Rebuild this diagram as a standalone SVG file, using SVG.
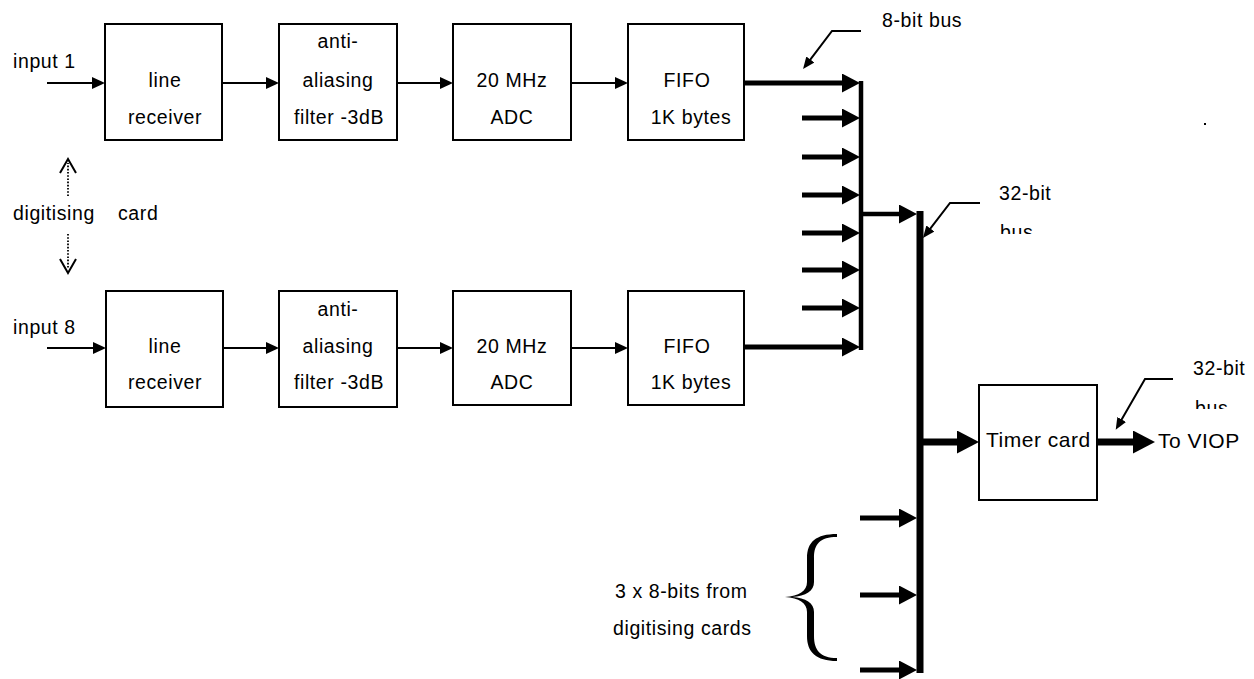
<svg xmlns="http://www.w3.org/2000/svg" width="1254" height="679" viewBox="0 0 1254 679">
<style>
  text { font-family: "Liberation Sans", Arial, sans-serif; font-size: 19.5px; letter-spacing: 0.6px; fill: #000; }
  .mid { text-anchor: middle; }
  .big { font-size: 21px; letter-spacing: 0.5px; }
  .box { fill: #fff; stroke: #000; stroke-width: 2; }
  .thin { fill: none; stroke: #000; stroke-width: 2; marker-end: url(#ahThin); }
  .thick { fill: none; stroke: #000; stroke-width: 5; marker-end: url(#ahThick); }
  .heavy { fill: none; stroke: #000; stroke-width: 7; marker-end: url(#ahBig); }
  .bus8 { fill: none; stroke: #000; stroke-width: 4.5; }
  .bus32 { fill: none; stroke: #000; stroke-width: 7; }
  .lead { fill: none; stroke: #000; stroke-width: 2; marker-end: url(#ahLead); }
  .dot { fill: none; stroke: #000; stroke-width: 1.8; stroke-dasharray: 1.6 1.6; }
  .chev { fill: none; stroke: #000; stroke-width: 2; }
</style>
<defs>
  <marker id="ahThin" markerUnits="userSpaceOnUse" markerWidth="13" markerHeight="12" viewBox="0 0 13 12" refX="1" refY="6" orient="auto">
    <path d="M0,0 L13,6 L0,12 Z" fill="#000"/>
  </marker>
  <marker id="ahThick" markerUnits="userSpaceOnUse" markerWidth="18" markerHeight="19" viewBox="0 0 18 19" refX="1" refY="9.5" orient="auto">
    <path d="M0,0 L18,9.5 L0,19 Z" fill="#000"/>
  </marker>
  <marker id="ahBig" markerUnits="userSpaceOnUse" markerWidth="22" markerHeight="23" viewBox="0 0 22 23" refX="1" refY="11.5" orient="auto">
    <path d="M0,0 L22,11.5 L0,23 Z" fill="#000"/>
  </marker>
  <marker id="ahLead" markerUnits="userSpaceOnUse" markerWidth="12" markerHeight="10" viewBox="0 0 12 10" refX="1" refY="5" orient="auto">
    <path d="M0,0 L12,5 L0,10 Z" fill="#000"/>
  </marker>
  <clipPath id="clipBus1"><rect x="990" y="212" width="100" height="22"/></clipPath>
  <clipPath id="clipBus2"><rect x="1185" y="390" width="69" height="19"/></clipPath>
</defs>

<rect width="1254" height="679" fill="#fff"/>

<g id="connectors">
  <!-- top row -->
  <path class="thin" d="M47,83 H93"/>
  <path class="thin" d="M222,83 H267"/>
  <path class="thin" d="M397,83 H441"/>
  <path class="thin" d="M571,83 H616"/>
  <!-- bottom row -->
  <path class="thin" d="M47,348 H94"/>
  <path class="thin" d="M223,348 H267"/>
  <path class="thin" d="M397,348 H441"/>
  <path class="thin" d="M571,348 H616"/>
  <!-- 8-bit bus -->
  <path class="bus8" d="M861,81 V350"/>
  <path class="thick" d="M744,83 H843"/>
  <path class="thick" d="M802,118 H843"/>
  <path class="thick" d="M802,157 H843"/>
  <path class="thick" d="M802,195 H843"/>
  <path class="thick" d="M802,233 H843"/>
  <path class="thick" d="M802,270 H843"/>
  <path class="thick" d="M802,308 H843"/>
  <path class="thick" d="M744,347 H843"/>
  <path class="thick" style="stroke-width:4.5" d="M861,214 H900"/>
  <!-- 32-bit bus -->
  <path class="bus32" d="M920,211 V673"/>
  <path class="thick" d="M860,518 H900"/>
  <path class="thick" d="M860,595 H900"/>
  <path class="thick" d="M860,670 H900"/>
  <path class="heavy" d="M920,442 H958"/>
  <path class="heavy" d="M1097,442 H1134"/>
  <!-- leaders -->
  <path class="lead" d="M861,31 L832,31 L809.7,60.3"/>
  <path class="lead" d="M980,203 L950,203 L929.7,229.3"/>
  <path class="lead" d="M1173,379 L1145,379 L1121.2,420.3"/>
  <!-- dotted arrows -->
  <path class="dot" d="M68,196 V163"/>
  <polyline class="chev" points="60,173 68,159 76,173"/>
  <path class="dot" d="M68,234 V269"/>
  <polyline class="chev" points="60,259 68,273 76,259"/>
  <!-- brace -->
  <path d="M837,534 C816,534 807,542 807,558 L807,582 C807,591 799,596 785,597 C799,598 807,603 807,612 L807,636 C807,652 816,661 837,661 L837,658 C820,658 814,650 814,636 L814,612 C814,603 806,598 792,597 C806,596 814,591 814,582 L814,558 C814,544 820,537 837,537 Z" fill="#000"/>
</g>

<g id="labels">
  <text x="13" y="68">input 1</text>
  <text x="13" y="334">input 8</text>
  <text x="13" y="220">digitising</text>
  <text x="118" y="220">card</text>
  <text x="882" y="27">8-bit bus</text>
  <text x="999" y="200">32-bit</text>
  <text x="1000" y="239" clip-path="url(#clipBus1)">bus</text>
  <text x="1193" y="375">32-bit</text>
  <text x="1195" y="415" clip-path="url(#clipBus2)">bus</text>
  <text class="big" x="1158" y="448">To VIOP</text>
  <text x="615" y="598">3 x 8-bits from</text>
  <text x="613" y="635">digitising cards</text>
  <rect x="1204" y="123" width="2" height="2" fill="#000"/>
</g>

<g id="lr1">
  <rect class="box" x="105" y="24" width="117" height="116"/>
  <text class="mid" x="165" y="87">line</text>
  <text class="mid" x="165" y="124">receiver</text>
</g>
<g id="aa1">
  <rect class="box" x="279" y="24" width="118" height="116"/>
  <text class="mid" x="338" y="48">anti-</text>
  <text class="mid" x="338" y="87">aliasing</text>
  <text class="mid" x="339" y="124">filter -3dB</text>
</g>
<g id="adc1">
  <rect class="box" x="453" y="24" width="118" height="116"/>
  <text class="mid" x="512" y="87">20 MHz</text>
  <text class="mid" x="512" y="124">ADC</text>
</g>
<g id="fifo1">
  <rect class="box" x="628" y="24" width="116" height="116"/>
  <text class="mid" x="687" y="87">FIFO</text>
  <text class="mid" x="691" y="124">1K bytes</text>
</g>

<g id="lr8">
  <rect class="box" x="106" y="291" width="117" height="116"/>
  <text class="mid" x="165" y="353">line</text>
  <text class="mid" x="165" y="389">receiver</text>
</g>
<g id="aa8">
  <rect class="box" x="279" y="291" width="118" height="116"/>
  <text class="mid" x="338" y="316">anti-</text>
  <text class="mid" x="338" y="353">aliasing</text>
  <text class="mid" x="339" y="389">filter -3dB</text>
</g>
<g id="adc8">
  <rect class="box" x="453" y="291" width="118" height="114"/>
  <text class="mid" x="512" y="353">20 MHz</text>
  <text class="mid" x="512" y="389">ADC</text>
</g>
<g id="fifo8">
  <rect class="box" x="628" y="291" width="116" height="114"/>
  <text class="mid" x="687" y="353">FIFO</text>
  <text class="mid" x="691" y="389">1K bytes</text>
</g>

<g id="timer">
  <rect class="box" x="979" y="385" width="118" height="115"/>
  <text class="big" x="986" y="447">Timer card</text>
</g>
</svg>
